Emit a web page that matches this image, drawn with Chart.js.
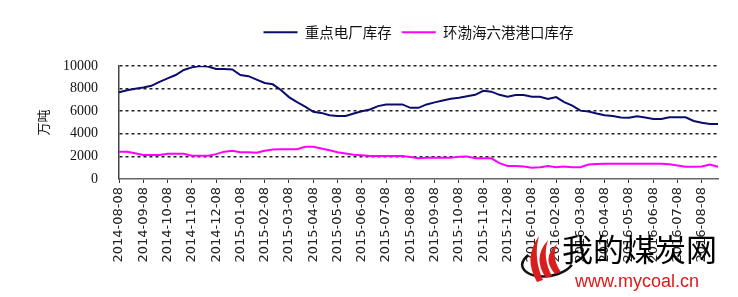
<!DOCTYPE html>
<html>
<head>
<meta charset="utf-8">
<script src="https://cdn.jsdelivr.net/npm/chart.js@4/dist/chart.umd.min.js"></script>
<style>
  html, body { margin: 0; padding: 0; background: #fff; }
  #wrap { width: 738px; height: 297px; }
</style>
</head>
<body>
<div id="wrap"><canvas id="myChart"></canvas></div>
<script>
// ten-day steps, a month label every third point
const fechas = [];
for (let k = 0; k < 25; k++) {
    const mes = (7 + k) % 12 + 1;
    const anio = 2014 + Math.floor((7 + k) / 12);
    const mm = String(mes).padStart(2, '0');
    fechas.push(anio + '-' + mm + '-08', anio + '-' + mm + '-18', anio + '-' + mm + '-28');
}
const categorias = fechas.slice(0, 75);

const dianchang = [7670, 7850, 7980, 8100, 8250, 8600, 8900, 9200, 9650, 9880,
    10000, 9950, 9730, 9730, 9700, 9200, 9100, 8800, 8500, 8380,
    7880, 7250, 6800, 6400, 5950, 5850, 5650, 5580, 5580, 5800,
    6000, 6150, 6450, 6600, 6600, 6600, 6300, 6300, 6600, 6780,
    6950, 7100, 7200, 7330, 7450, 7800, 7730, 7450, 7280, 7430,
    7430, 7280, 7280, 7080, 7250, 6800, 6500, 6050, 5980, 5800,
    5650, 5580, 5450, 5430, 5550, 5450, 5320, 5320, 5460, 5460,
    5460, 5130, 4980, 4870, 4870];

const gangkou = [2420, 2420, 2270, 2120, 2120, 2120, 2240, 2240, 2240, 2060,
    2060, 2060, 2200, 2420, 2500, 2360, 2360, 2330, 2500, 2600,
    2630, 2630, 2630, 2860, 2860, 2700, 2550, 2360, 2250, 2150,
    2100, 2040, 2040, 2040, 2040, 2040, 1950, 1830, 1890, 1890,
    1890, 1890, 1980, 2000, 1830, 1830, 1830, 1400, 1150, 1150,
    1100, 1000, 1040, 1150, 1040, 1100, 1040, 1040, 1280, 1330,
    1360, 1360, 1360, 1360, 1360, 1360, 1360, 1360, 1300, 1200,
    1090, 1090, 1100, 1280, 1090];

const yTicks = [0, 2000, 4000, 6000, 8000, 10000];

const fixLegend = {
    id: 'fixLegend',
    beforeUpdate(chart) {
        const lg = chart.legend;
        if (lg && !lg._patched) {
            const f = lg.fit;
            lg.fit = function () { f.call(this); this.height = 51; };
            lg._patched = true;
        }
    }
};

const marca = {
    id: 'marca',
    afterDraw(chart) {
        const c = chart.ctx;
        c.save();
        // rough logo
        c.strokeStyle = '#111';
        c.lineWidth = 2.5;
        c.beginPath();
        c.ellipse(548, 262, 26, 14, -0.15, 0.15 * Math.PI, 1.25 * Math.PI);
        c.stroke();
        c.fillStyle = '#d81e1e';
        [[537, 0], [546, 4], [555, 8]].forEach(([x, d]) => {
            c.beginPath();
            c.moveTo(x, 282 - d);
            c.quadraticCurveTo(x - 14, 258, x + 2, 236 + d);
            c.quadraticCurveTo(x - 4, 258, x + 6, 280 - d);
            c.closePath();
            c.fill();
        });
        c.fillStyle = '#000';
        c.font = '31px "Noto Sans CJK SC"';
        c.textBaseline = 'middle';
        c.textAlign = 'left';
        c.fillText('我的煤炭网', 562, 249);
        c.fillStyle = '#e01818';
        c.font = '18px "Liberation Sans"';
        c.fillText('www.mycoal.cn', 575, 282);
        c.restore();
    }
};

const ctx = document.getElementById('myChart').getContext('2d');
const myChart = new Chart(ctx, {
    type: 'line',
    data: {
        labels: categorias,
        datasets: [{
            label: '重点电厂库存',
            data: dianchang,
            borderColor: 'rgb(12, 12, 110)',
            backgroundColor: 'rgb(12, 12, 110)',
            borderWidth: 2,
            pointRadius: 0,
            pointStyle: 'line',
            tension: 0
        },
        {
            label: '环渤海六港港口库存',
            data: gangkou,
            borderColor: 'rgb(255, 0, 255)',
            backgroundColor: 'rgb(255, 0, 255)',
            borderWidth: 2,
            pointRadius: 0,
            pointStyle: 'line',
            tension: 0
        }]
    },
    options: {
        responsive: true,
        maintainAspectRatio: false,
        animation: false,
        layout: { padding: { top: 15, right: 20, left: 0, bottom: 0 } },
        plugins: {
            legend: {
                position: 'top',
                fullSize: false,
                labels: {
                    usePointStyle: true,
                    pointStyleWidth: 34,
                    boxHeight: 14,
                    padding: 10,
                    color: '#111',
                    font: { family: '"Noto Sans CJK SC"', size: 14.5 }
                }
            },
            tooltip: { enabled: false }
        },
        scales: {
            x: {
                type: 'category',
                afterFit(s) { s.height = 118; },
                grid: {
                    drawOnChartArea: false,
                    drawTicks: true,
                    tickLength: 4,
                    color: (c) => (c.index % 3 === 0 ? '#333' : 'rgba(0,0,0,0)')
                },
                border: { display: true, color: '#666', width: 1.5 },
                ticks: {
                    autoSkip: false,
                    minRotation: 90,
                    maxRotation: 90,
                    padding: 4,
                    color: '#222',
                    font: { family: '"DejaVu Sans"', size: 13 },
                    callback: (v, i) => (i % 3 === 0 ? categorias[i] : '')
                }
            },
            y: {
                min: 0,
                max: 10000,
                afterFit(s) { s.width = 119; },
                afterBuildTicks(s) { s.ticks = yTicks.map(v => ({ value: v })); },
                grid: {
                    drawTicks: false,
                    lineWidth: 1.5,
                    color: (c) => (c.tick && c.tick.value === 0 ? 'rgba(0,0,0,0)' : '#222')
                },
                border: { display: true, color: '#444', width: 1.5, dash: [3, 3] },
                ticks: {
                    padding: 21,
                    color: '#111',
                    font: { family: '"Liberation Serif"', size: 14 },
                    callback: (v) => String(v)
                },
                title: {
                    display: true,
                    text: '万吨',
                    color: '#111',
                    padding: { top: 35, bottom: 0 },
                    font: { family: '"Noto Sans CJK SC"', size: 13 }
                }
            }
        }
    },
    plugins: [fixLegend, marca]
});
</script>
</body>
</html>
